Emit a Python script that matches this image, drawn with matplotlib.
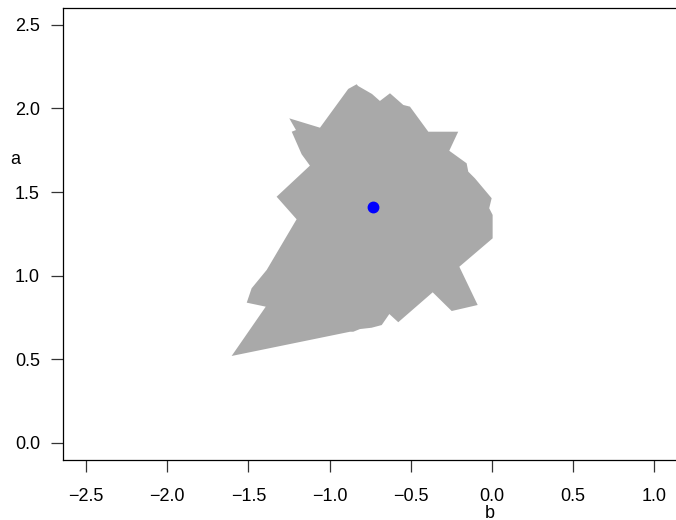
import matplotlib.pyplot as plt
import numpy as np
from matplotlib import rc

rc('font', **{'family': 'sans-serif', 'sans-serif': ['Liberation Sans', 'DejaVu Sans']})

# outline of the feasible region in the (b, a) plane
region_b = [-1.248, -1.059, -0.885, -0.833, -0.825, -0.739, -0.690, -0.628,
            -0.546, -0.505, -0.392, -0.208, -0.263, -0.156, -0.146, -0.105,
            -0.002, -0.017, 0.004, 0.004, -0.201, -0.088, -0.248, -0.365,
            -0.577, -0.632, -0.679, -0.741, -0.813, -0.854, -0.874, -1.603,
            -1.393, -1.510, -1.480, -1.387, -1.203, -1.326, -1.121, -1.172,
            -1.233, -1.207]
region_a = [1.941, 1.885, 2.117, 2.145, 2.135, 2.087, 2.045, 2.091,
            2.021, 2.011, 1.861, 1.861, 1.747, 1.672, 1.622, 1.582,
            1.463, 1.403, 1.363, 1.223, 1.053, 0.824, 0.788, 0.900,
            0.721, 0.770, 0.704, 0.688, 0.680, 0.664, 0.664, 0.519,
            0.814, 0.838, 0.924, 1.034, 1.337, 1.472, 1.658, 1.726,
            1.861, 1.871]

# estimate
est_b = -0.735
est_a = 1.409

xticks = [-2.5, -2.0, -1.5, -1.0, -0.5, 0.0, 0.5, 1.0]
yticks = [0.0, 0.5, 1.0, 1.5, 2.0, 2.5]

def fmt(v):
    return ('%.1f' % v).replace('-', '\u2212')

fig = plt.figure(figsize=(6.76, 5.2), dpi=100)
ax = fig.add_axes([0.0928, 0.1154, 0.9276, 0.8688])

ax.fill(region_b, region_a, color='#a9a9a9', lw=0)
ax.plot(est_b, est_a, 'o', color='blue', ms=7.5, mec='blue')

ax.set_xlim(-2.643, 1.218)
ax.set_ylim(-0.1035, 2.6)
ax.set_xticks(xticks)
ax.set_yticks(yticks)
ax.set_xticklabels([fmt(v) for v in xticks])
ax.set_yticklabels([fmt(v) for v in yticks])
ax.tick_params(length=8.4, width=0.9, labelsize=13, pad=12, color='#333333')
ax.tick_params(axis='y', pad=8)
for s in ax.spines.values():
    s.set_linewidth(0.9)

fig.text(15 / 676, 1 - 159 / 520, 'a', fontsize=13, ha='center', va='center')
fig.text(490 / 676, 1 - 513 / 520, 'b', fontsize=13, ha='center', va='center')

plt.savefig('out.png', dpi=100)
